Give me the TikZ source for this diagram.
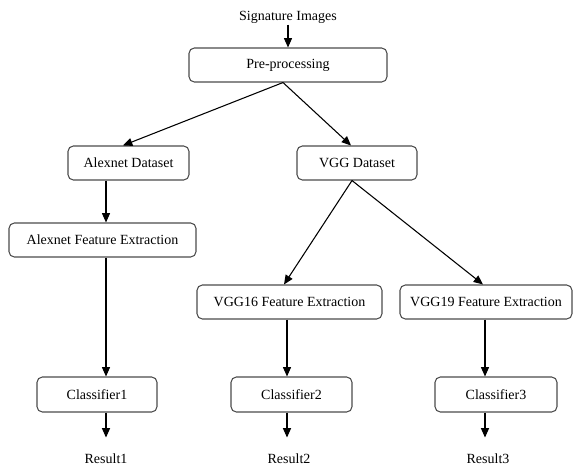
\documentclass[tikz,border=0pt]{standalone}
\usepackage{fontspec}
\setmainfont{Liberation Serif}
\usetikzlibrary{arrows.meta,calc}
\begin{document}
\begin{tikzpicture}[x=0.75pt,y=-0.75pt,
  box/.style={draw=black!70,line width=0.8pt,rounded corners=4pt,fill=white,inner sep=0pt,minimum height=25.5pt,font=\fontsize{10.5}{12}\selectfont},
  lbl/.style={inner sep=1pt,font=\fontsize{10.5}{12}\selectfont},
  arr/.style={draw=black,line width=0.8pt,-{Triangle[length=7pt,width=6pt]}}]
\useasboundingbox (0,0) rectangle (581,468);
\node[lbl] (sig) at (288,17) {Signature Images};
\node[box,minimum width=148.5pt] (pre) at (288,65) {Pre-processing};
\node[box,minimum width=90.75pt] (alexds) at (128.5,163) {Alexnet Dataset};
\node[box,minimum width=90pt] (vggds) at (357,163) {VGG Dataset};
\node[box,minimum width=140.25pt] (alexfe) at (102.5,240) {Alexnet Feature Extraction};
\node[box,minimum width=138.75pt] (vgg16) at (289.5,302) {VGG16 Feature Extraction};
\node[box,minimum width=129pt] (vgg19) at (486,302) {VGG19 Feature Extraction};
\node[box,minimum width=90pt,minimum height=26.25pt] (c1) at (97,394.5) {Classifier1};
\node[box,minimum width=90.75pt,minimum height=26.25pt] (c2) at (291.5,394.5) {Classifier2};
\node[box,minimum width=91.5pt,minimum height=26.25pt] (c3) at (496,394.5) {Classifier3};
\node[lbl] (r1) at (106,459) {Result1};
\node[lbl] (r2) at (289,459) {Result2};
\node[lbl] (r3) at (488,459) {Result3};
\coordinate (e1) at ($(c1.south)+(9,25)$);
\coordinate (e2) at ($(c2.south)+(-4.5,25)$);
\coordinate (e3) at ($(c3.south)+(-11,25)$);
\draw[arr] (sig.south) -- (pre.north);
\draw[arr] ($(pre.south)+(-5,0)$) -- ($(alexds.north)+(-5.5,0)$);
\draw[arr] ($(pre.south)+(-5,0)$) -- ($(vggds.north)+(-6,0)$);
\draw[arr] ($(alexds.south)+(-22.5,0)$) -- ($(alexfe.north)+(3.5,0)$);
\draw[arr] ($(alexfe.south)+(3.5,0)$) -- ($(c1.north)+(9,0)$);
\draw[arr] ($(vggds.south)+(-5,0)$) -- ($(vgg16.north)+(-5.5,0)$);
\draw[arr] ($(vggds.south)+(-5,0)$) -- ($(vgg19.north)+(-3,0)$);
\draw[arr] ($(vgg16.south)+(-2.5,0)$) -- ($(c2.north)+(-4.5,0)$);
\draw[arr] ($(vgg19.south)+(-1,0)$) -- ($(c3.north)+(-11,0)$);
\draw[arr] ($(c1.south)+(9,0)$) -- (e1);
\draw[arr] ($(c2.south)+(-4.5,0)$) -- (e2);
\draw[arr] ($(c3.south)+(-11,0)$) -- (e3);
\end{tikzpicture}
\end{document}
